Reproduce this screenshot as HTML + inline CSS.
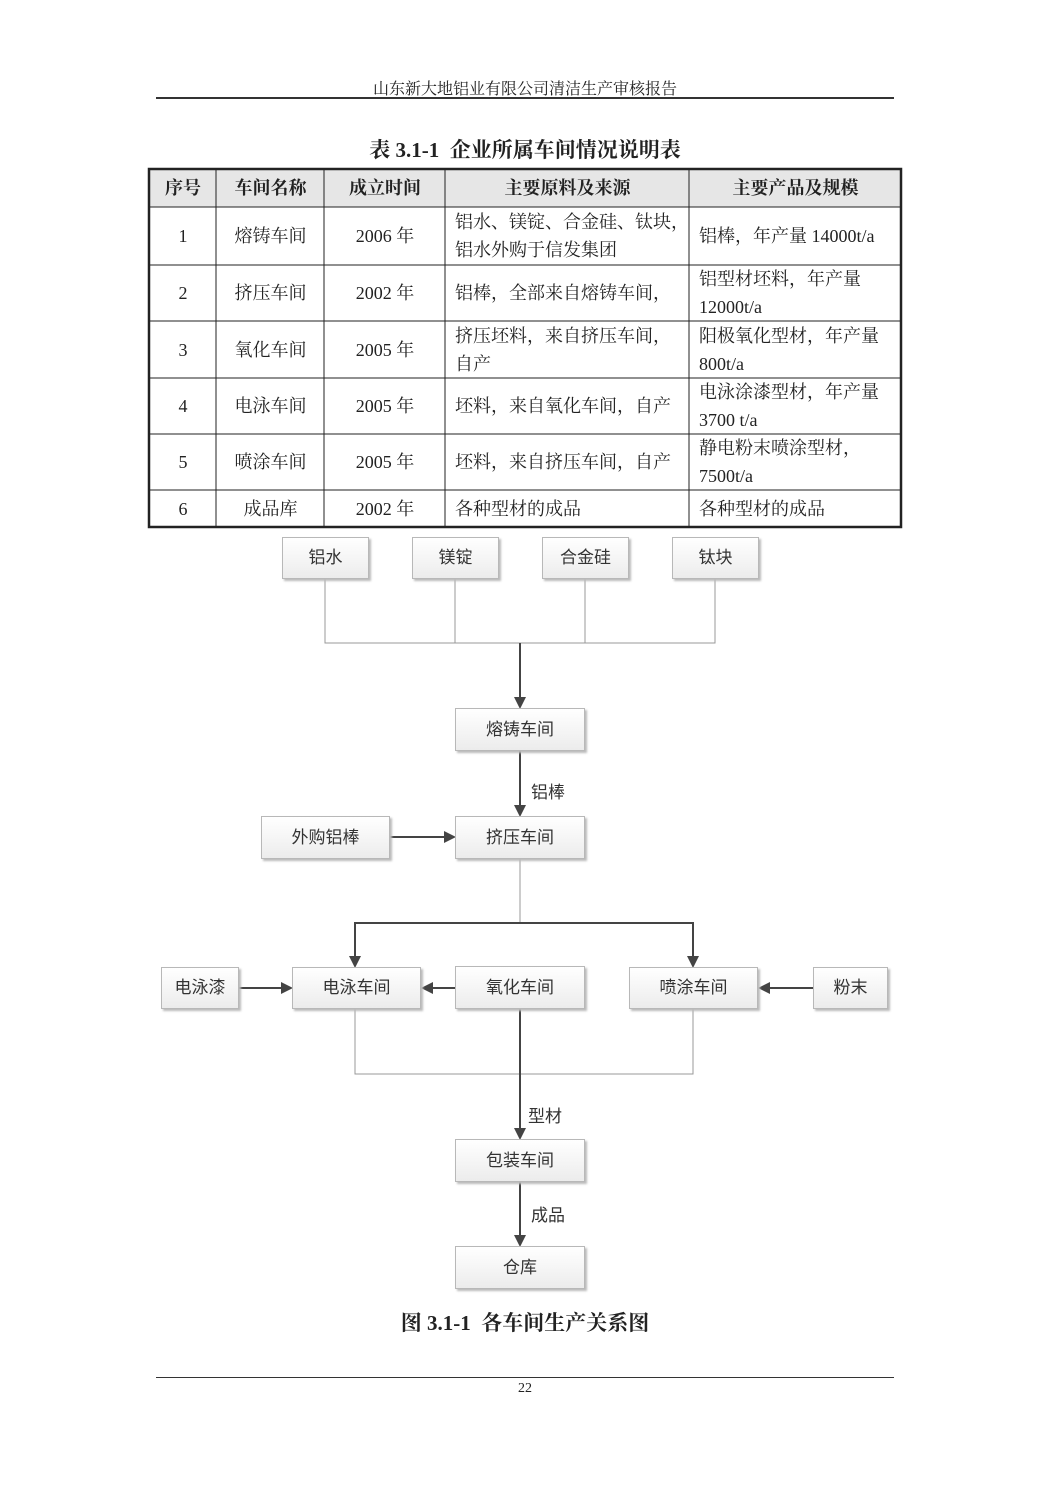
<!DOCTYPE html>
<html><head><meta charset="utf-8"><style>
body{margin:0;background:#fff;}
#pg{position:relative;width:1050px;height:1485px;overflow:hidden;font-family:"Liberation Serif","Noto Serif CJK SC",serif;color:#222;}
.a{position:absolute;}
.t{position:absolute;white-space:nowrap;}
.c{position:absolute;font-size:18px;line-height:28px;white-space:nowrap;}
.h{font-weight:bold;}
.bx{position:absolute;box-sizing:border-box;border:1px solid #b8b8b8;background:linear-gradient(#fff,#ececec);box-shadow:2px 2px 2px #bbb;font-size:17px;text-align:center;font-family:"Liberation Sans","Noto Sans CJK SC",sans-serif;color:#333;}
.lb{position:absolute;font-size:17px;font-family:"Liberation Sans","Noto Sans CJK SC",sans-serif;color:#333;}
</style></head><body><div id="pg">
<div class="t" style="left:0;width:1050px;text-align:center;top:76px;font-size:16px;">山东新大地铝业有限公司清洁生产审核报告</div>
<div class="a" style="left:156px;top:97px;width:738px;height:2px;background:#333"></div>
<div class="t" style="left:0;width:1050px;text-align:center;top:134px;font-size:21px;font-weight:bold;">表 3.1-1&nbsp; 企业所属车间情况说明表</div>

<svg class="a" style="left:0;top:0" width="1050" height="1485">
<rect x="150" y="170" width="750" height="37" fill="#e6e6e6"/>
<g stroke="#222" stroke-width="1" fill="none">
<line x1="149" y1="207" x2="901" y2="207"/><line x1="149" y1="265" x2="901" y2="265"/><line x1="149" y1="321" x2="901" y2="321"/><line x1="149" y1="378" x2="901" y2="378"/><line x1="149" y1="434" x2="901" y2="434"/><line x1="149" y1="490" x2="901" y2="490"/>
<line x1="216" y1="169" x2="216" y2="527"/><line x1="324" y1="169" x2="324" y2="527"/><line x1="445" y1="169" x2="445" y2="527"/><line x1="689" y1="169" x2="689" y2="527"/>
<rect x="149" y="169" width="752" height="358" stroke-width="2.5"/>
</g>
<g stroke="#999" stroke-width="1" fill="none">
<polyline points="325,579 325,643 715,643 715,579"/><line x1="455" y1="579" x2="455" y2="643"/><line x1="585" y1="579" x2="585" y2="643"/>
<line x1="520" y1="859" x2="520" y2="923"/>
<polyline points="355,1009 355,1074 693,1074 693,1009"/>
</g>
<g stroke="#444" stroke-width="2" fill="none">
<line x1="520" y1="643" x2="520" y2="698"/>
<line x1="520" y1="751" x2="520" y2="806"/>
<line x1="390" y1="837" x2="445" y2="837"/>
<polyline points="355,957 355,923 693,923 693,957"/>
<line x1="239" y1="988" x2="282" y2="988"/>
<line x1="455" y1="988" x2="431" y2="988"/>
<line x1="813" y1="988" x2="768" y2="988"/>
<line x1="520" y1="1009" x2="520" y2="1129"/>
<line x1="520" y1="1182" x2="520" y2="1236"/>
</g>
<g fill="#444">
<polygon points="514,697 526,697 520,709"/>
<polygon points="514,805 526,805 520,817"/>
<polygon points="444,831 444,843 456,837"/>
<polygon points="349,956 361,956 355,968"/>
<polygon points="687,956 699,956 693,968"/>
<polygon points="281,982 281,994 293,988"/>
<polygon points="433,982 433,994 421,988"/>
<polygon points="770,982 770,994 758,988"/>
<polygon points="514,1128 526,1128 520,1140"/>
<polygon points="514,1235 526,1235 520,1247"/>
</g>
</svg>

<div class="c h" style="left:150px;top:174px;width:66px;text-align:center">序号</div>
<div class="c h" style="left:217px;top:174px;width:107px;text-align:center">车间名称</div>
<div class="c h" style="left:325px;top:174px;width:120px;text-align:center">成立时间</div>
<div class="c h" style="left:446px;top:174px;width:243px;text-align:center">主要原料及来源</div>
<div class="c h" style="left:690px;top:174px;width:211px;text-align:center">主要产品及规模</div>

<div class="c" style="left:150px;top:222px;width:66px;text-align:center">1</div>
<div class="c" style="left:217px;top:222px;width:107px;text-align:center">熔铸车间</div>
<div class="c" style="left:325px;top:222px;width:120px;text-align:center">2006 年</div>
<div class="c" style="left:455px;top:208px;">铝水、镁锭、合金硅、钛块，<br>铝水外购于信发集团</div>
<div class="c" style="left:699px;top:222px;">铝棒，年产量 14000t/a</div>

<div class="c" style="left:150px;top:279px;width:66px;text-align:center">2</div>
<div class="c" style="left:217px;top:279px;width:107px;text-align:center">挤压车间</div>
<div class="c" style="left:325px;top:279px;width:120px;text-align:center">2002 年</div>
<div class="c" style="left:455px;top:279px;">铝棒，全部来自熔铸车间，</div>
<div class="c" style="left:699px;top:265px;">铝型材坯料，年产量<br>12000t/a</div>

<div class="c" style="left:150px;top:336px;width:66px;text-align:center">3</div>
<div class="c" style="left:217px;top:336px;width:107px;text-align:center">氧化车间</div>
<div class="c" style="left:325px;top:336px;width:120px;text-align:center">2005 年</div>
<div class="c" style="left:455px;top:322px;">挤压坯料，来自挤压车间，<br>自产</div>
<div class="c" style="left:699px;top:322px;">阳极氧化型材，年产量<br>800t/a</div>

<div class="c" style="left:150px;top:392px;width:66px;text-align:center">4</div>
<div class="c" style="left:217px;top:392px;width:107px;text-align:center">电泳车间</div>
<div class="c" style="left:325px;top:392px;width:120px;text-align:center">2005 年</div>
<div class="c" style="left:455px;top:392px;">坯料，来自氧化车间，自产</div>
<div class="c" style="left:699px;top:378px;">电泳涂漆型材，年产量<br>3700 t/a</div>

<div class="c" style="left:150px;top:448px;width:66px;text-align:center">5</div>
<div class="c" style="left:217px;top:448px;width:107px;text-align:center">喷涂车间</div>
<div class="c" style="left:325px;top:448px;width:120px;text-align:center">2005 年</div>
<div class="c" style="left:455px;top:448px;">坯料，来自挤压车间，自产</div>
<div class="c" style="left:699px;top:434px;">静电粉末喷涂型材，<br>7500t/a</div>

<div class="c" style="left:150px;top:495px;width:66px;text-align:center">6</div>
<div class="c" style="left:217px;top:495px;width:107px;text-align:center">成品库</div>
<div class="c" style="left:325px;top:495px;width:120px;text-align:center">2002 年</div>
<div class="c" style="left:455px;top:495px;">各种型材的成品</div>
<div class="c" style="left:699px;top:495px;">各种型材的成品</div>

<div class="bx" style="left:282px;top:537px;width:87px;height:42px;line-height:40px">铝水</div>
<div class="bx" style="left:412px;top:537px;width:87px;height:42px;line-height:40px">镁锭</div>
<div class="bx" style="left:542px;top:537px;width:87px;height:42px;line-height:40px">合金硅</div>
<div class="bx" style="left:672px;top:537px;width:87px;height:42px;line-height:40px">钛块</div>
<div class="bx" style="left:455px;top:708px;width:130px;height:43px;line-height:41px">熔铸车间</div>
<div class="lb" style="left:531px;top:778px">铝棒</div>
<div class="bx" style="left:261px;top:816px;width:129px;height:43px;line-height:41px">外购铝棒</div>
<div class="bx" style="left:455px;top:816px;width:130px;height:43px;line-height:41px">挤压车间</div>
<div class="bx" style="left:161px;top:967px;width:78px;height:42px;line-height:40px">电泳漆</div>
<div class="bx" style="left:292px;top:967px;width:129px;height:42px;line-height:40px">电泳车间</div>
<div class="bx" style="left:455px;top:966px;width:130px;height:43px;line-height:41px">氧化车间</div>
<div class="bx" style="left:629px;top:967px;width:129px;height:42px;line-height:40px">喷涂车间</div>
<div class="bx" style="left:813px;top:967px;width:75px;height:42px;line-height:40px">粉末</div>
<div class="lb" style="left:528px;top:1102px">型材</div>
<div class="bx" style="left:455px;top:1139px;width:130px;height:43px;line-height:41px">包装车间</div>
<div class="lb" style="left:531px;top:1201px">成品</div>
<div class="bx" style="left:455px;top:1246px;width:130px;height:43px;line-height:41px">仓库</div>

<div class="t" style="left:0;width:1050px;text-align:center;top:1307px;font-size:21px;font-weight:bold;">图 3.1-1&nbsp; 各车间生产关系图</div>
<div class="a" style="left:156px;top:1377px;width:738px;height:1px;background:#333"></div>
<div class="t" style="left:0;width:1050px;text-align:center;top:1381px;font-size:14px;">22</div>
</div></body></html>
